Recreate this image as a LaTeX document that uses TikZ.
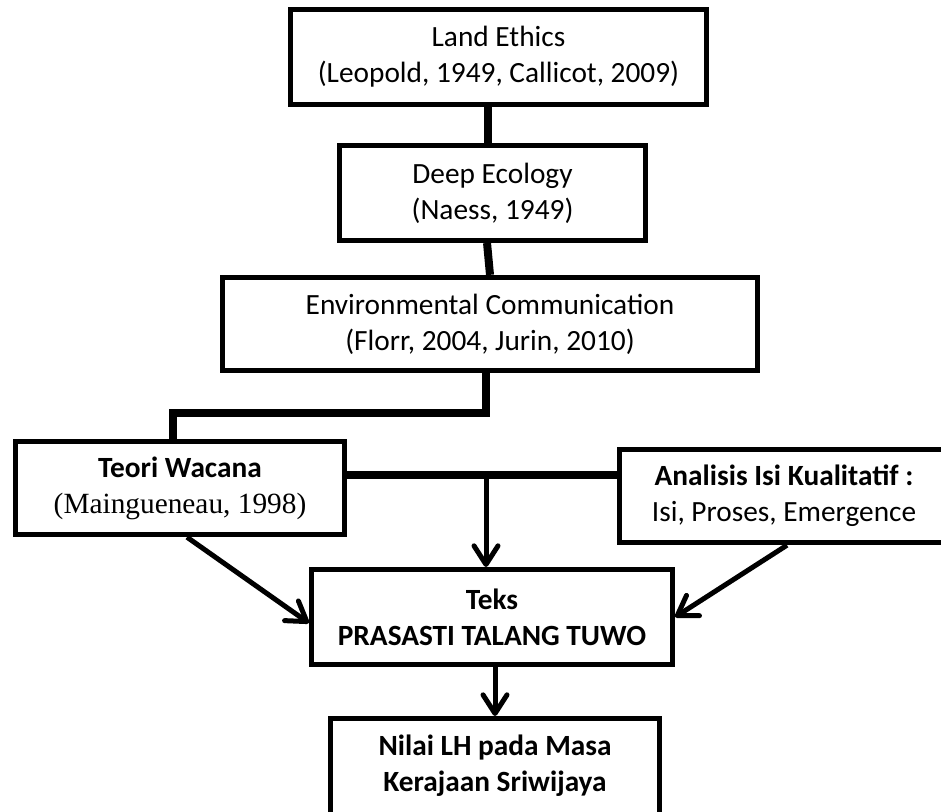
\documentclass[tikz,border=0pt]{standalone}
\usepackage{fontspec}
\setmainfont{Carlito}
\newfontfamily\timesfont{Liberation Serif}
\usepackage{tikz}
\usetikzlibrary{calc, arrows.meta, positioning}
\tikzset{
    boxnode/.style = {draw, rectangle, line width=3.75pt, inner sep = 0em, node distance=0em,
      font=\fontsize{22}{27}\selectfont},
    link/.style = {black, line width=6pt},
    arrow/.style = {black, line width=3.75pt, -{Straight Barb[length=14pt, width=18pt, round]}},
    every text node part/.style={align=center}
}

\begin{document}
\begin{tikzpicture}
\useasboundingbox (-373.875pt,42.75pt) rectangle (331.875pt,-565.5pt);
\node[boxnode, name=land, minimum width=312pt, minimum height=71.25pt] {Land Ethics\\(Leopold, 1949, Callicot, 2009)};
\node[boxnode, name=deep, below of = land, xshift=-4.5pt, yshift=-102pt, minimum width=229.5pt, 
	minimum height=71.25pt] {Deep Ecology\\(Naess, 1949)};
\node[boxnode, name=env, below of = deep, xshift=-1.875pt, yshift=-98.25pt, minimum width=401pt, 
	minimum height=70pt] {Environmental Communication\\(Florr, 2004, Jurin, 2010)};

\node[boxnode, name=teori, below of = env, xshift=-232.5pt, yshift=-123pt, minimum width=247pt, 
	minimum height=70pt] {\bfseries Teori Wacana\\{\timesfont (Maingueneau, 1998)}};
\node[boxnode, name=teks, below of = env, xshift=1.5pt, yshift=-219.75pt, minimum width=271pt, 
	minimum height=71.25pt] {\bfseries Teks\\\bfseries PRASASTI TALANG TUWO};
\node[boxnode, name=analisis, right of = teks, xshift=219pt, yshift=90.75pt, minimum width=247pt, 
	minimum height=70pt] {\bfseries Analisis Isi Kualitatif :\\Isi, Proses, Emergence};
\node[boxnode, name=nilai, below of = teks, xshift=2.25pt, yshift=-119.25pt, minimum width=247pt, 
	minimum height=86.25pt, text depth=19.5pt] {\bfseries Nilai LH pada Masa\\\bfseries Kerajaan Sriwijaya};

\draw[link] ([xshift=-7.9pt]land.south) -- ([xshift=-3.4pt]deep.north);
\draw[link] ([xshift=-4.1pt]deep.south) -- (env.north);
\draw[link] ([xshift=-3pt]env.south) -- ++(0,-29.6pt) -| ([xshift=-5.25pt]teori.north);

\coordinate[xshift=-4.5pt, yshift=9.75pt] (hub) at (teks.north |- teori.east);
\draw[link] (teori.east |- hub) -- (analisis.west |- hub);
\draw[arrow] (hub) -- ([xshift=-4.5pt]teks.north);
\draw[arrow] ([xshift=5.25pt]teori.south) -- ([yshift=-4.5pt]teks.west);
\draw[arrow] ([xshift=2.25pt]analisis.south) -- (teks.east);
\draw[arrow] (teks.south -| nilai.north) -- (nilai.north);
\end{tikzpicture}
\end{document}
